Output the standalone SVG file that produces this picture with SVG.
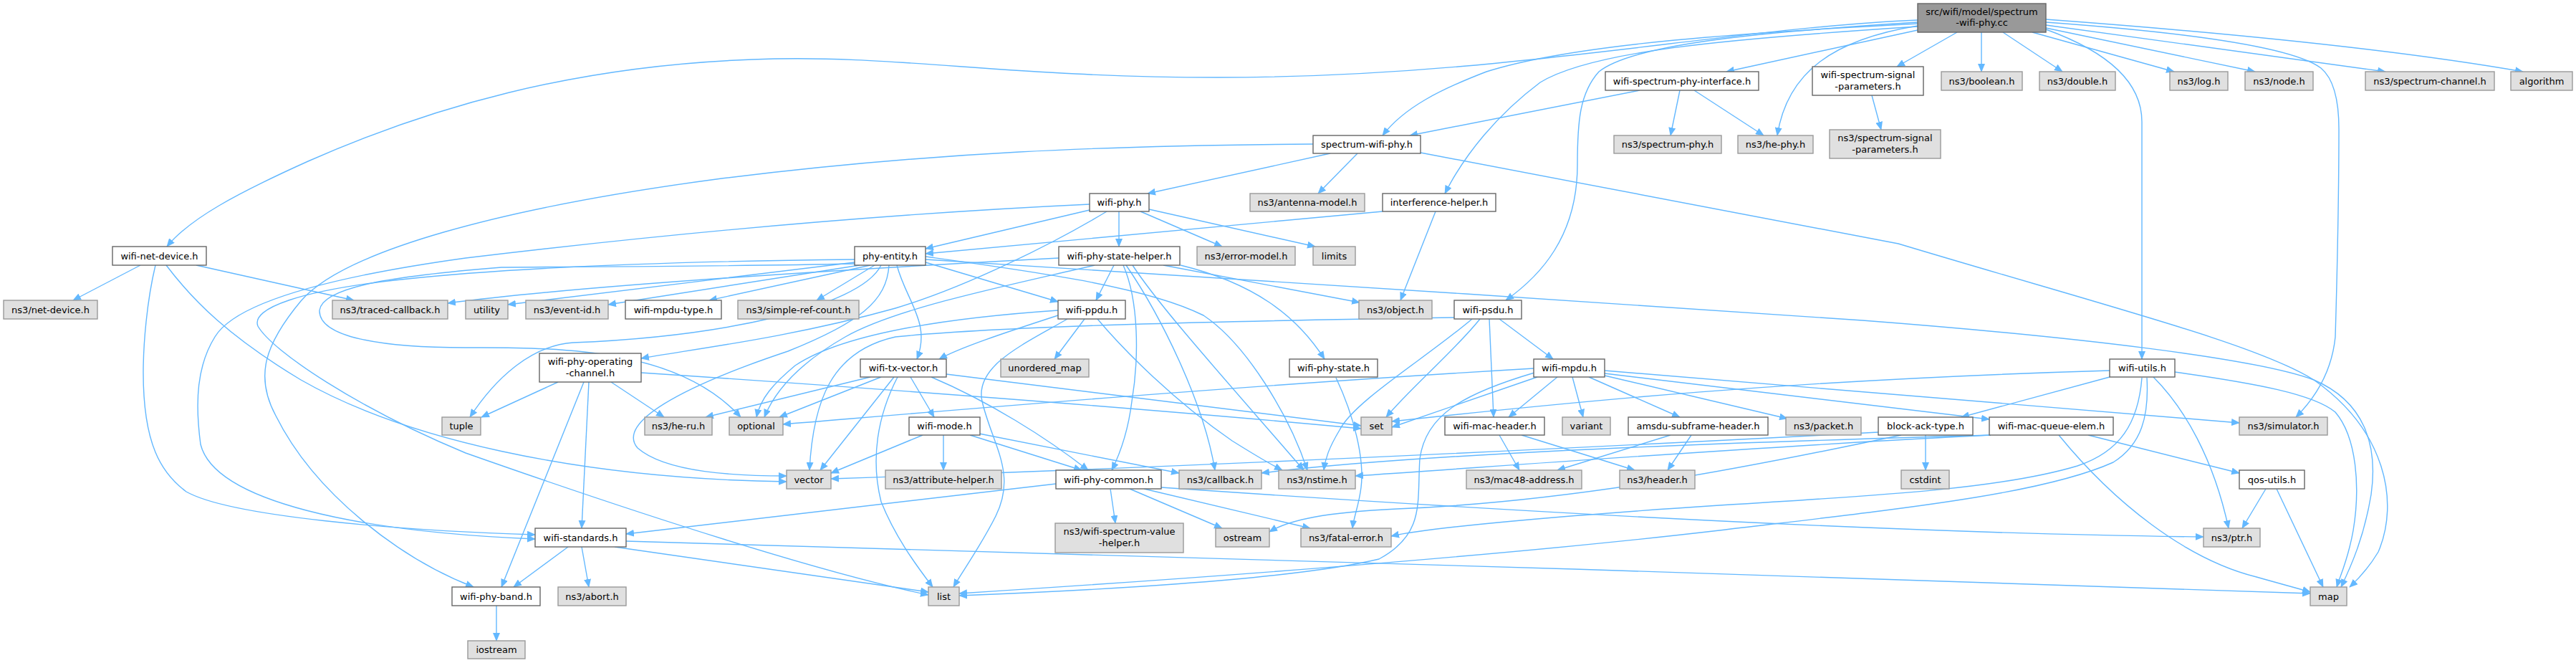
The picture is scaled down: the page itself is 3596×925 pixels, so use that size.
<svg xmlns="http://www.w3.org/2000/svg" width="3596" height="925" viewBox="0 0 3596 925">
<defs>
<marker id="a" markerWidth="12" markerHeight="10" refX="11" refY="5" orient="auto" markerUnits="userSpaceOnUse"><path d="M0,0 L12,5 L0,10 z" fill="#63b8ff"/></marker>
<style>
.e path{fill:none;stroke:#63b8ff;stroke-width:1.4;marker-end:url(#a)}
.w rect{fill:#ffffff;stroke:#666666;stroke-width:1.4}
.x rect{fill:#e0e0e0;stroke:#999999;stroke-width:1.4}
.r rect{fill:#999999;stroke:#666666;stroke-width:1.4}
text{font-family:"DejaVu Sans","Liberation Sans",sans-serif;font-size:13px;text-anchor:middle;fill:#000}
</style>
</defs>
<rect width="3596" height="925" fill="#fff"/>
<g id="edges" class="e">
<path d="M2677,28 C2400,40 2100,108 1700,108 C1400,108 1250,75 1050,83 C800,92 600,150 430,225 C330,270 265,305 233,344"/>
<path d="M2677,33 C2450,45 2200,60 2075,100 C2010,125 1960,150 1930,189"/>
<path d="M2677,37 C2400,55 2220,72 2150,115 C2090,160 2045,215 2017,270"/>
<path d="M2677,31 C2450,45 2280,62 2232,100 C2205,130 2202,170 2202,230 C2202,330 2150,385 2102,419"/>
<path d="M2677,42 L2410,100"/>
<path d="M2677,36 C2560,55 2495,100 2481,189"/>
<path d="M2732,45 L2648,93"/>
<path d="M2766,45 L2766,100"/>
<path d="M2796,45 L2879,100"/>
<path d="M2837,45 L3035,100"/>
<path d="M2856,39 L3148,100"/>
<path d="M2856,35 L3330,100"/>
<path d="M2856,27 C3100,45 3350,70 3522,100"/>
<path d="M2856,41 C2950,75 2990,120 2990,170 L2990,501"/>
<path d="M2856,31 C3050,45 3200,65 3240,95 C3258,110 3265,140 3265,180 C3265,300 3262,400 3260,470 C3255,520 3232,555 3205,582"/>
<path d="M2613,133 L2626,181"/>
<path d="M2289,126 L1968,189"/>
<path d="M2345,126 L2332,189"/>
<path d="M2365,126 L2462,189"/>
<path d="M1857,214 L1602,270"/>
<path d="M1895,214 L1840,270"/>
<path d="M1983,213 L2650,340 C2950,430 3150,480 3230,530 C3330,600 3350,700 3320,770 C3305,795 3292,808 3280,819"/>
<path d="M1833,201 C1550,203 1300,212 1000,250 C700,290 480,350 420,420 C370,480 355,525 385,580 C440,690 560,780 661,819"/>
<path d="M1521,293 L1292,347"/>
<path d="M1562,295 L1562,344"/>
<path d="M1592,295 L1706,344"/>
<path d="M1604,292 L1836,344"/>
<path d="M1545,295 C1470,340 1350,400 1250,430 C1100,472 960,488 895,500"/>
<path d="M1521,285 C1200,300 900,330 650,360 C470,385 330,420 300,470 C275,510 272,560 280,620 C300,700 500,742 747,752"/>
<path d="M1930,295 L1292,354"/>
<path d="M2004,295 L1955,419"/>
<path d="M196,370 L102,419"/>
<path d="M274,370 L494,419"/>
<path d="M217,370 C205,420 200,480 200,520 C200,620 225,660 260,686 C320,720 550,740 747,746"/>
<path d="M232,370 C270,420 320,470 420,530 C560,610 800,668 1098,672"/>
<path d="M1193,366 L709,425"/>
<path d="M1200,370 L849,425"/>
<path d="M1215,370 L990,419"/>
<path d="M1221,370 L1140,419"/>
<path d="M1292,366 L1477,421"/>
<path d="M1252,370 C1265,420 1300,450 1280,501"/>
<path d="M1230,370 C1200,430 1000,470 800,478 C740,482 690,530 656,582"/>
<path d="M1241,370 C1238,420 1200,450 1100,490 C950,540 860,590 890,625 C930,660 1030,664 1098,664"/>
<path d="M1193,368 C1000,372 800,372 700,373 C550,385 450,400 446,433 C445,470 530,485 650,485 C800,484 950,490 1034,582"/>
<path d="M1292,362 C1600,380 2200,420 2600,447 C2900,470 3150,500 3230,530 C3300,560 3320,620 3310,690 C3300,750 3282,790 3268,819"/>
<path d="M1292,358 C1450,380 1600,400 1680,440 C1740,480 1800,580 1825,656"/>
<path d="M1193,362 C900,365 700,375 560,390 C420,405 350,430 360,455 C380,490 500,570 650,632 C900,720 1150,800 1296,830"/>
<path d="M1478,360 C1100,380 800,400 625,423"/>
<path d="M1555,370 L1530,419"/>
<path d="M1568,370 C1590,420 1590,500 1580,560 C1575,600 1565,630 1552,656"/>
<path d="M1572,370 C1620,440 1680,560 1696,656"/>
<path d="M1581,370 C1620,430 1720,540 1820,656"/>
<path d="M1648,370 C1750,395 1810,440 1849,501"/>
<path d="M1624,370 L1898,422"/>
<path d="M1528,370 C1400,400 1250,430 1180,470 C1110,510 1080,550 1067,582"/>
<path d="M1514,445 L1472,501"/>
<path d="M1477,440 C1400,465 1340,485 1311,501"/>
<path d="M1532,445 C1570,490 1640,560 1720,615 C1760,640 1778,650 1790,656"/>
<path d="M1490,445 C1430,480 1360,510 1371,560 C1385,620 1420,660 1390,720 C1370,760 1345,795 1331,819"/>
<path d="M1477,433 C1300,445 1170,470 1110,510 C1080,535 1062,555 1056,582"/>
<path d="M2030,443 C1700,448 1400,455 1250,470 C1160,490 1135,560 1130,656"/>
<path d="M2066,445 C2030,490 1970,540 1935,582"/>
<path d="M2055,445 C1990,500 1890,560 1870,600 C1855,625 1850,640 1848,656"/>
<path d="M2079,445 L2085,582"/>
<path d="M2093,445 L2168,501"/>
<path d="M1215,526 L985,582"/>
<path d="M1230,526 L1088,582"/>
<path d="M1248,526 L1145,656"/>
<path d="M1253,526 C1225,580 1215,640 1230,700 C1250,750 1280,790 1302,819"/>
<path d="M1271,526 L1304,582"/>
<path d="M1300,526 C1380,560 1460,610 1519,656"/>
<path d="M1321,522 L1900,594"/>
<path d="M1288,607 L1160,660"/>
<path d="M1317,607 L1317,656"/>
<path d="M1354,607 L1510,656"/>
<path d="M1367,605 L1646,660"/>
<path d="M779,533 L672,582"/>
<path d="M853,533 L927,582"/>
<path d="M822,533 L812,737"/>
<path d="M815,533 L700,819"/>
<path d="M895,520 C1200,540 1600,570 1900,598"/>
<path d="M793,763 L717,819"/>
<path d="M812,763 L822,819"/>
<path d="M858,763 L1296,826"/>
<path d="M874,755 C1500,775 2500,800 3225,828"/>
<path d="M693,845 L693,894"/>
<path d="M1474,675 L874,745"/>
<path d="M1550,682 L1557,730"/>
<path d="M1577,682 L1706,737"/>
<path d="M1597,682 L1829,737"/>
<path d="M1621,680 C2200,720 2700,745 3076,749"/>
<path d="M1865,527 C1890,580 1905,640 1900,680 C1897,705 1890,720 1888,737"/>
<path d="M2141,514 C1700,540 1300,575 1093,592"/>
<path d="M2146,526 L1943,596"/>
<path d="M2142,520 C2040,550 1990,580 1982,640 C1978,700 1990,745 1925,780 C1800,810 1500,825 1339,831"/>
<path d="M2174,526 L2106,582"/>
<path d="M2195,526 L2210,582"/>
<path d="M2218,526 L2345,582"/>
<path d="M2240,524 L2495,584"/>
<path d="M2240,517 C2600,545 2900,570 3126,590"/>
<path d="M2240,521 C2450,545 2650,570 2777,585"/>
<path d="M2093,607 L2121,656"/>
<path d="M2124,607 L2282,656"/>
<path d="M2332,607 L2174,656"/>
<path d="M2361,607 L2328,656"/>
<path d="M2945,526 L2738,582"/>
<path d="M2945,517 C2500,530 2200,560 1943,588"/>
<path d="M3036,519 C3150,535 3230,550 3260,575 C3290,610 3295,680 3285,740 C3278,780 3268,800 3262,819"/>
<path d="M3006,526 C3050,570 3090,640 3111,737"/>
<path d="M2990,527 C2985,590 2960,630 2900,650 C2800,680 2650,690 2400,705 C2200,718 2000,735 1942,748"/>
<path d="M2997,527 C3000,580 2990,620 2950,645 C2850,690 2650,710 2400,740 C2100,775 1700,805 1339,828"/>
<path d="M2688,607 L2688,656"/>
<path d="M2622,603 C2300,620 1700,650 1160,668"/>
<path d="M2654,607 C2450,650 2200,700 1950,710 C1850,715 1800,725 1772,742"/>
<path d="M2915,607 L3126,660"/>
<path d="M2874,607 C2950,700 3050,780 3150,805 C3185,815 3205,820 3225,826"/>
<path d="M2779,607 C2500,615 2000,630 1761,660"/>
<path d="M2779,607 C2500,620 2100,650 1892,664"/>
<path d="M3163,682 L3130,737"/>
<path d="M3178,682 L3243,819"/>
</g>
<g id="root" class="r"><rect x="2677" y="5" width="179" height="40"/><text x="2766.5" y="21">src/wifi/model/spectrum</text><text x="2766.5" y="36">-wifi-phy.cc</text></g>
<g id="wifi-net-device" class="w"><rect x="157" y="344" width="131" height="26"/><text x="222.5" y="361.5">wifi-net-device.h</text></g>
<g id="net-device" class="x"><rect x="5" y="419" width="131" height="26"/><text x="70.5" y="436.5">ns3/net-device.h</text></g>
<g id="traced-callback" class="x"><rect x="464" y="419" width="161" height="26"/><text x="544.5" y="436.5">ns3/traced-callback.h</text></g>
<g id="utility" class="x"><rect x="650" y="419" width="59" height="26"/><text x="679.5" y="436.5">utility</text></g>
<g id="event-id" class="x"><rect x="734" y="419" width="115" height="26"/><text x="791.5" y="436.5">ns3/event-id.h</text></g>
<g id="wifi-mpdu-type" class="w"><rect x="873" y="419" width="134" height="26"/><text x="940" y="436.5">wifi-mpdu-type.h</text></g>
<g id="simple-ref-count" class="x"><rect x="1030" y="419" width="169" height="26"/><text x="1114.5" y="436.5">ns3/simple-ref-count.h</text></g>
<g id="phy-entity" class="w"><rect x="1193" y="344" width="99" height="26"/><text x="1242.5" y="361.5">phy-entity.h</text></g>
<g id="spectrum-wifi-phy" class="w"><rect x="1833" y="189" width="150" height="25"/><text x="1908" y="206">spectrum-wifi-phy.h</text></g>
<g id="wifi-phy" class="w"><rect x="1521" y="270" width="83" height="25"/><text x="1562.5" y="287">wifi-phy.h</text></g>
<g id="antenna-model" class="x"><rect x="1745" y="270" width="160" height="25"/><text x="1825" y="287">ns3/antenna-model.h</text></g>
<g id="interference-helper" class="w"><rect x="1930" y="270" width="158" height="25"/><text x="2009" y="287">interference-helper.h</text></g>
<g id="wifi-phy-state-helper" class="w"><rect x="1478" y="344" width="169" height="26"/><text x="1562.5" y="361.5">wifi-phy-state-helper.h</text></g>
<g id="error-model" class="x"><rect x="1671" y="344" width="137" height="26"/><text x="1739.5" y="361.5">ns3/error-model.h</text></g>
<g id="limits" class="x"><rect x="1833" y="344" width="59" height="26"/><text x="1862.5" y="361.5">limits</text></g>
<g id="wifi-ppdu" class="w"><rect x="1477" y="419" width="94" height="26"/><text x="1524" y="436.5">wifi-ppdu.h</text></g>
<g id="object" class="x"><rect x="1897" y="419" width="102" height="26"/><text x="1948" y="436.5">ns3/object.h</text></g>
<g id="wifi-psdu" class="w"><rect x="2030" y="419" width="94" height="26"/><text x="2077" y="436.5">wifi-psdu.h</text></g>
<g id="wifi-spectrum-phy-interface" class="w"><rect x="2241" y="100" width="214" height="26"/><text x="2348" y="117.5">wifi-spectrum-phy-interface.h</text></g>
<g id="spectrum-phy" class="x"><rect x="2253" y="189" width="150" height="25"/><text x="2328" y="206">ns3/spectrum-phy.h</text></g>
<g id="he-phy" class="x"><rect x="2426" y="189" width="105" height="25"/><text x="2478.5" y="206">ns3/he-phy.h</text></g>
<g id="wifi-spectrum-signal-parameters" class="w"><rect x="2530" y="93" width="155" height="40"/><text x="2607.5" y="109">wifi-spectrum-signal</text><text x="2607.5" y="125">-parameters.h</text></g>
<g id="spectrum-signal-parameters" class="x"><rect x="2554" y="181" width="155" height="40"/><text x="2631.5" y="197">ns3/spectrum-signal</text><text x="2631.5" y="213">-parameters.h</text></g>
<g id="boolean" class="x"><rect x="2710" y="100" width="113" height="26"/><text x="2766.5" y="117.5">ns3/boolean.h</text></g>
<g id="double" class="x"><rect x="2847" y="100" width="106" height="26"/><text x="2900" y="117.5">ns3/double.h</text></g>
<g id="log" class="x"><rect x="3029" y="100" width="81" height="26"/><text x="3069.5" y="117.5">ns3/log.h</text></g>
<g id="node" class="x"><rect x="3134" y="100" width="95" height="26"/><text x="3181.5" y="117.5">ns3/node.h</text></g>
<g id="spectrum-channel" class="x"><rect x="3302" y="100" width="180" height="26"/><text x="3392" y="117.5">ns3/spectrum-channel.h</text></g>
<g id="algorithm" class="x"><rect x="3505" y="100" width="86" height="26"/><text x="3548" y="117.5">algorithm</text></g>
<g id="wifi-phy-operating-channel" class="w"><rect x="753" y="493" width="142" height="40"/><text x="824" y="509">wifi-phy-operating</text><text x="824" y="525">-channel.h</text></g>
<g id="wifi-tx-vector" class="w"><rect x="1201" y="501" width="120" height="25"/><text x="1261" y="518">wifi-tx-vector.h</text></g>
<g id="unordered_map" class="x"><rect x="1397" y="501" width="123" height="25"/><text x="1458.5" y="518">unordered_map</text></g>
<g id="wifi-phy-state" class="w"><rect x="1800" y="501" width="123" height="25"/><text x="1861.5" y="518">wifi-phy-state.h</text></g>
<g id="wifi-mpdu" class="w"><rect x="2141" y="501" width="99" height="25"/><text x="2190.5" y="518">wifi-mpdu.h</text></g>
<g id="wifi-utils" class="w"><rect x="2945" y="501" width="91" height="25"/><text x="2990.5" y="518">wifi-utils.h</text></g>
<g id="tuple" class="x"><rect x="617" y="582" width="54" height="25"/><text x="644" y="599">tuple</text></g>
<g id="he-ru" class="x"><rect x="900" y="582" width="94" height="25"/><text x="947" y="599">ns3/he-ru.h</text></g>
<g id="optional" class="x"><rect x="1018" y="582" width="75" height="25"/><text x="1055.5" y="599">optional</text></g>
<g id="wifi-mode" class="w"><rect x="1269" y="582" width="99" height="25"/><text x="1318.5" y="599">wifi-mode.h</text></g>
<g id="set" class="x"><rect x="1900" y="582" width="43" height="25"/><text x="1921.5" y="599">set</text></g>
<g id="wifi-mac-header" class="w"><rect x="2017" y="582" width="139" height="25"/><text x="2086.5" y="599">wifi-mac-header.h</text></g>
<g id="variant" class="x"><rect x="2181" y="582" width="67" height="25"/><text x="2214.5" y="599">variant</text></g>
<g id="amsdu-subframe-header" class="w"><rect x="2273" y="582" width="195" height="25"/><text x="2370.5" y="599">amsdu-subframe-header.h</text></g>
<g id="packet" class="x"><rect x="2493" y="582" width="105" height="25"/><text x="2545.5" y="599">ns3/packet.h</text></g>
<g id="block-ack-type" class="w"><rect x="2622" y="582" width="132" height="25"/><text x="2688" y="599">block-ack-type.h</text></g>
<g id="wifi-mac-queue-elem" class="w"><rect x="2777" y="582" width="173" height="25"/><text x="2863.5" y="599">wifi-mac-queue-elem.h</text></g>
<g id="simulator" class="x"><rect x="3126" y="582" width="123" height="25"/><text x="3187.5" y="599">ns3/simulator.h</text></g>
<g id="vector" class="x"><rect x="1098" y="656" width="62" height="26"/><text x="1129" y="673.5">vector</text></g>
<g id="attribute-helper" class="x"><rect x="1236" y="656" width="162" height="26"/><text x="1317" y="673.5">ns3/attribute-helper.h</text></g>
<g id="wifi-phy-common" class="w"><rect x="1474" y="656" width="147" height="26"/><text x="1547.5" y="673.5">wifi-phy-common.h</text></g>
<g id="callback" class="x"><rect x="1646" y="656" width="115" height="26"/><text x="1703.5" y="673.5">ns3/callback.h</text></g>
<g id="nstime" class="x"><rect x="1785" y="656" width="107" height="26"/><text x="1838.5" y="673.5">ns3/nstime.h</text></g>
<g id="mac48-address" class="x"><rect x="2047" y="656" width="161" height="26"/><text x="2127.5" y="673.5">ns3/mac48-address.h</text></g>
<g id="header" class="x"><rect x="2261" y="656" width="105" height="26"/><text x="2313.5" y="673.5">ns3/header.h</text></g>
<g id="cstdint" class="x"><rect x="2654" y="656" width="67" height="26"/><text x="2687.5" y="673.5">cstdint</text></g>
<g id="qos-utils" class="w"><rect x="3126" y="656" width="91" height="26"/><text x="3171.5" y="673.5">qos-utils.h</text></g>
<g id="wifi-standards" class="w"><rect x="747" y="737" width="127" height="26"/><text x="810.5" y="754.5">wifi-standards.h</text></g>
<g id="wifi-spectrum-value-helper" class="x"><rect x="1473" y="730" width="179" height="41"/><text x="1562.5" y="746">ns3/wifi-spectrum-value</text><text x="1562.5" y="762">-helper.h</text></g>
<g id="ostream" class="x"><rect x="1697" y="737" width="75" height="26"/><text x="1734.5" y="754.5">ostream</text></g>
<g id="fatal-error" class="x"><rect x="1816" y="737" width="126" height="26"/><text x="1879" y="754.5">ns3/fatal-error.h</text></g>
<g id="ptr" class="x"><rect x="3076" y="737" width="79" height="26"/><text x="3115.5" y="754.5">ns3/ptr.h</text></g>
<g id="wifi-phy-band" class="w"><rect x="631" y="819" width="123" height="26"/><text x="692.5" y="836.5">wifi-phy-band.h</text></g>
<g id="abort" class="x"><rect x="779" y="819" width="95" height="26"/><text x="826.5" y="836.5">ns3/abort.h</text></g>
<g id="list" class="x"><rect x="1296" y="819" width="43" height="26"/><text x="1317.5" y="836.5">list</text></g>
<g id="map" class="x"><rect x="3225" y="819" width="51" height="26"/><text x="3250.5" y="836.5">map</text></g>
<g id="iostream" class="x"><rect x="653" y="894" width="80" height="25"/><text x="693" y="911">iostream</text></g>
</svg>
